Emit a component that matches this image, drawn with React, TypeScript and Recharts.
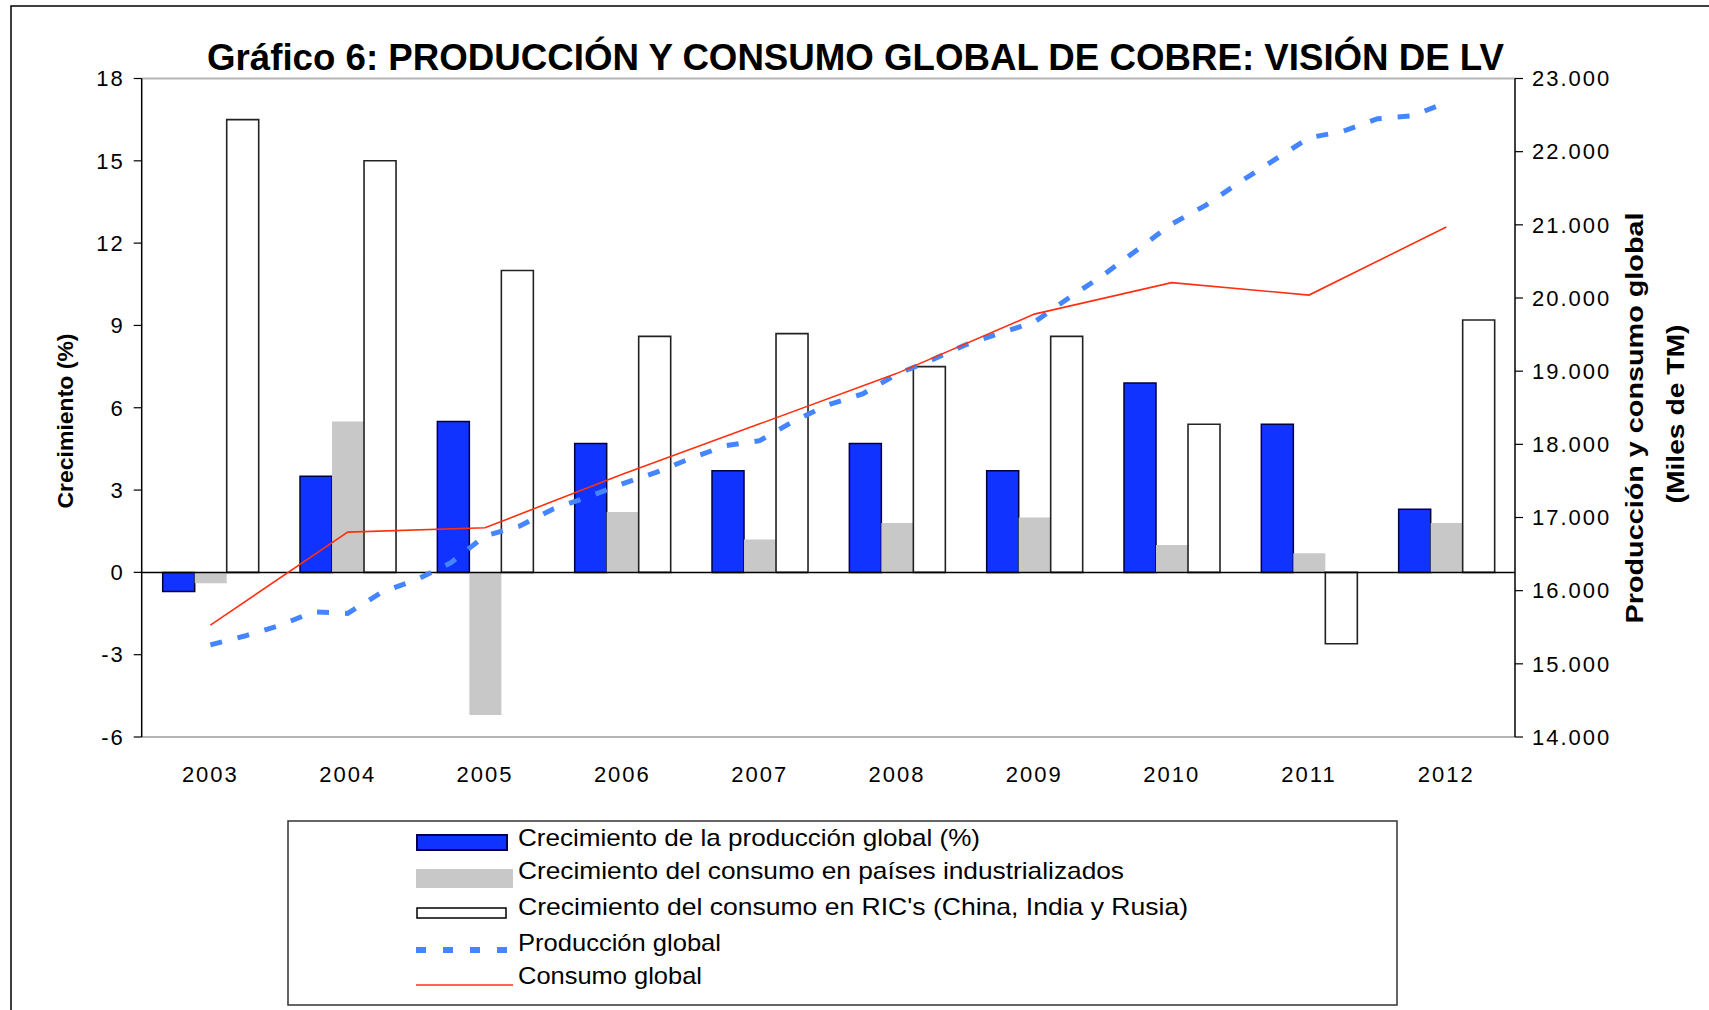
import React from 'react';
import { ComposedChart, Bar, Line, XAxis, YAxis, ReferenceLine } from 'recharts';

const years = ['2003', '2004', '2005', '2006', '2007', '2008', '2009', '2010', '2011', '2012'];
const prodGrowth = [-0.7, 3.5, 5.5, 4.7, 3.7, 4.7, 3.7, 6.9, 5.4, 2.3];
const indGrowth = [-0.4, 5.5, -5.2, 2.2, 1.2, 1.8, 2.0, 1.0, 0.7, 1.8];
const ricGrowth = [16.5, 15.0, 11.0, 8.6, 8.7, 7.5, 8.6, 5.4, -2.6, 9.2];
const consumoGlobal = [15530, 16800, 16860, 17590, 18280, 18970, 19780, 20210, 20040, 20970];
// Producción global, quarterly readings from 2003 to 2012
const produccionGlobal = [
  15260, 15380, 15520, 15710,
  15690, 15980, 16150, 16380,
  16750, 16880, 17120, 17280,
  17460, 17620, 17810, 17980,
  18050, 18320, 18540, 18690,
  18960, 19150, 19360, 19520,
  19670, 20000, 20310, 20660,
  21010, 21270, 21590, 21890,
  22190, 22280, 22450, 22490,
  22670,
];
const leftTicks = [-6, -3, 0, 3, 6, 9, 12, 15, 18];
const rightTicks = [14000, 15000, 16000, 17000, 18000, 19000, 20000, 21000, 22000, 23000];

const title = 'Gráfico 6: PRODUCCIÓN Y CONSUMO GLOBAL DE COBRE: VISIÓN DE LV';
const leftLabel = 'Crecimiento (%)';
const rightLabel1 = 'Producción y consumo global';
const rightLabel2 = '(Miles de TM)';
const legendNames = [
  'Crecimiento de la producción global (%)',
  'Crecimiento del consumo en países industrializados',
  "Crecimiento del consumo en RIC's (China, India y Rusia)",
  'Producción global',
  'Consumo global',
];

const BLUE = '#1133ff';
const GRAY = '#c8c8c8';
const DASH_BLUE = '#4585ff';
const RED = '#ff3010';
const FONT = "'Liberation Sans', Arial, sans-serif";

const data = years.map((y, i) => ({
  year: y,
  prod: prodGrowth[i],
  ind: indGrowth[i],
  ric: ricGrowth[i],
  cons: consumoGlobal[i],
}));
const prodData = produccionGlobal.map((v, i) => ({ t: i / 4, v }));

const fmtThousands = (v: number) => {
  const k = Math.floor(v / 1000);
  const r = String(v % 1000).padStart(3, '0');
  return `${k}.${r}`;
};

const tickStyle = { fontSize: 22, fill: '#000', fontFamily: FONT, letterSpacing: 2 };

export default function App() {
  return (
    <div style={{ position: 'absolute', left: 0, top: 0, width: 1709, height: 1010, background: '#fff', fontFamily: FONT }}>
      <ComposedChart
        width={1709}
        height={1010}
        data={data}
        margin={{ top: 78.5, right: 114, bottom: 213, left: 61.7 }}
        barGap={0}
        barSize={32}
        style={{ fontFamily: FONT }}
      >
        <XAxis
          xAxisId="cat"
          dataKey="year"
          type="category"
          axisLine={false}
          tickLine={false}
          tickSize={0}
          tickMargin={29}
          height={60}
          tick={tickStyle}
          interval={0}
        />
        <XAxis
          xAxisId="q"
          dataKey="t"
          type="number"
          domain={[-0.5, 9.5]}
          allowDataOverflow
          hide
          height={0}
          orientation="top"
        />
        <YAxis
          yAxisId="left"
          orientation="left"
          domain={[-6, 18]}
          ticks={leftTicks}
          interval={0}
          width={80}
          axisLine={{ stroke: '#000', strokeWidth: 1.5 }}
          tickLine={{ stroke: '#000', strokeWidth: 1.2 }}
          tickSize={8}
          tickMargin={9}
          tick={tickStyle}
          allowDataOverflow
        />
        <YAxis
          yAxisId="right"
          orientation="right"
          domain={[14000, 23000]}
          ticks={rightTicks}
          interval={0}
          width={80}
          axisLine={{ stroke: '#000', strokeWidth: 1.5 }}
          tickLine={{ stroke: '#000', strokeWidth: 1.2 }}
          tickSize={8}
          tickMargin={9}
          tick={tickStyle}
          tickFormatter={fmtThousands}
          allowDataOverflow
        />
        <ReferenceLine yAxisId="left" xAxisId="cat" y={18} stroke="#b4b4b4" strokeWidth={2} />
        <ReferenceLine yAxisId="left" xAxisId="cat" y={-6} stroke="#b4b4b4" strokeWidth={2} />
        <Bar xAxisId="cat" yAxisId="left" dataKey="prod" fill={BLUE} stroke="#000040" strokeWidth={1.5} isAnimationActive={false} />
        <Bar xAxisId="cat" yAxisId="left" dataKey="ind" fill={GRAY} isAnimationActive={false} />
        <Bar xAxisId="cat" yAxisId="left" dataKey="ric" fill="#fff" stroke="#222" strokeWidth={1.6} isAnimationActive={false} />
        <ReferenceLine yAxisId="left" xAxisId="cat" y={0} stroke="#000" strokeWidth={1.5} />
        <Line
          xAxisId="q"
          yAxisId="right"
          data={prodData}
          dataKey="v"
          stroke={DASH_BLUE}
          strokeWidth={5}
          strokeDasharray="12 16"
          dot={false}
          activeDot={false}
          isAnimationActive={false}
          type="linear"
        />
        <Line
          xAxisId="cat"
          yAxisId="right"
          dataKey="cons"
          stroke={RED}
          strokeWidth={1.6}
          dot={false}
          activeDot={false}
          isAnimationActive={false}
          type="linear"
        />
      </ComposedChart>
      <svg
        width={1709}
        height={1010}
        style={{ position: 'absolute', left: 0, top: 0, pointerEvents: 'none', fontFamily: FONT }}
      >
        <path d="M11 1010 V6 H1709" stroke="#000" strokeWidth={1.5} fill="none" />
        <text x={207} y={70} fontSize={36} fontWeight="bold" fill="#000" textLength={1297} lengthAdjust="spacingAndGlyphs">
          {title}
        </text>
        <g transform="translate(73,421) rotate(-90)">
          <text x={0} y={0} textAnchor="middle" fontSize={22} fontWeight="bold" fill="#000" textLength={175} lengthAdjust="spacingAndGlyphs">
            {leftLabel}
          </text>
        </g>
        <g transform="translate(1643,418) rotate(-90)">
          <text x={0} y={0} textAnchor="middle" fontSize={24} fontWeight="bold" fill="#000" textLength={411} lengthAdjust="spacingAndGlyphs">
            {rightLabel1}
          </text>
        </g>
        <g transform="translate(1684,414) rotate(-90)">
          <text x={0} y={0} textAnchor="middle" fontSize={24} fontWeight="bold" fill="#000" textLength={179} lengthAdjust="spacingAndGlyphs">
            {rightLabel2}
          </text>
        </g>
        <rect x={288} y={821} width={1109} height={184} fill="#fff" stroke="#333" strokeWidth={1.5} />
        <rect x={417} y={835} width={90} height={15} fill={BLUE} stroke="#000050" strokeWidth={2} />
        <rect x={416} y={869} width={97} height={19} fill={GRAY} />
        <rect x={417} y={908} width={89} height={10} fill="#fff" stroke="#000" strokeWidth={1.5} />
        <line x1={416} y1={950} x2={510} y2={950} stroke={DASH_BLUE} strokeWidth={6} strokeDasharray="10 17" />
        <line x1={416} y1={985} x2={513} y2={985} stroke={RED} strokeWidth={1.6} />
        {legendNames.map((name, i) => {
          const ys = [846, 879, 915, 951, 984];
          const lens = [462, 606, 670, 203, 184];
          return (
            <text key={name} x={518} y={ys[i]} fontSize={24} fill="#000" textLength={lens[i]} lengthAdjust="spacingAndGlyphs">
              {name}
            </text>
          );
        })}
      </svg>
    </div>
  );
}
